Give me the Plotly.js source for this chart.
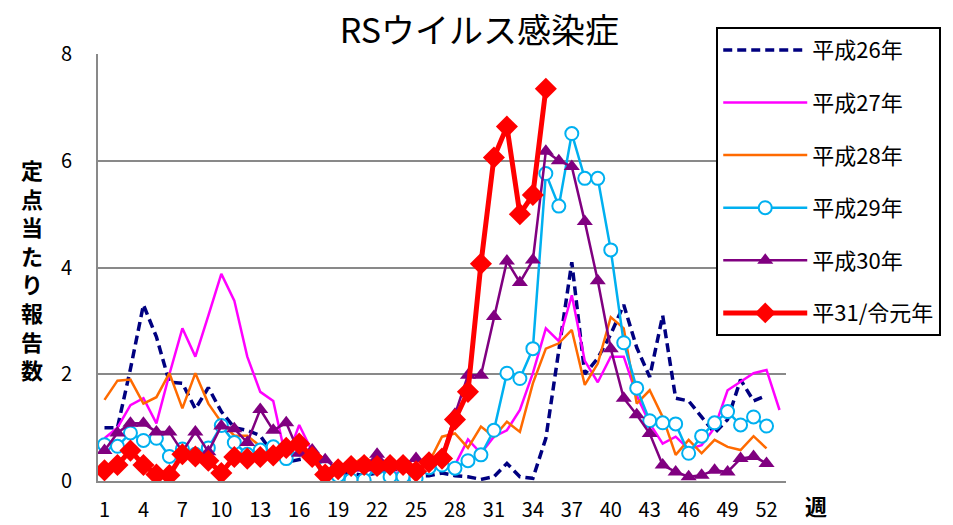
<!DOCTYPE html>
<html><head><meta charset="utf-8">
<script src="https://cdn.plot.ly/plotly-3.0.1.min.js"></script>
<style>html,body{margin:0;padding:0;background:#fff}#chart{width:953px;height:525px}</style>
</head><body><div id="chart"></div>
<script>
const weeks = [1,2,3,4,5,6,7,8,9,10,11,12,13,14,15,16,17,18,19,20,21,22,23,24,25,26,27,28,29,30,31,32,33,34,35,36,37,38,39,40,41,42,43,44,45,46,47,48,49,50,51,52,53];
const tickWeeks = [1,4,7,10,13,16,19,22,25,28,31,34,37,40,43,46,49,52];
const seriesNames = ["平成26年","平成27年","平成28年","平成29年","平成30年","平31/令元年"];

const h26 = [1.0,1.0,2.1,3.3,2.7,1.85,1.83,1.35,1.75,1.3,1.0,0.95,0.85,0.5,0.35,0.4,0.45,0.25,0.15,0.15,0.1,0.15,0.1,0.1,0.1,0.1,0.15,0.1,0.08,0.03,0.08,0.33,0.08,0.05,0.8,2.4,4.1,2.0,2.3,2.75,3.3,2.5,1.95,3.1,1.55,1.5,1.2,0.9,1.15,1.9,1.5,1.6];
const h27 = [0.8,1.0,1.42,1.55,1.08,2.0,2.86,2.33,3.1,3.88,3.38,2.33,1.67,1.5,0.4,1.05,0.55,0.3,0.25,0.2,0.2,0.2,0.15,0.15,0.1,0.2,0.3,0.3,0.78,0.52,0.83,0.95,1.33,2.02,2.86,2.62,3.48,2.25,1.85,2.33,2.33,1.6,1.08,0.7,0.83,0.6,0.67,1.0,1.7,1.86,2.02,2.08,1.33];
const h28 = [1.52,1.88,1.9,1.45,1.57,2.02,1.36,2.02,1.45,1.1,0.85,0.85,0.65,0.5,0.45,0.55,0.4,0.3,0.25,0.3,0.45,0.3,0.3,0.25,0.25,0.35,0.83,0.89,0.62,1.02,0.83,1.11,0.92,1.83,2.48,2.58,2.83,1.8,2.2,3.07,2.86,1.45,1.7,1.2,0.49,0.77,0.52,0.77,0.64,0.58,0.84,0.61];
const h29 = [0.68,0.65,0.9,0.76,0.8,0.46,0.6,0.5,0.62,1.04,0.72,0.5,0.58,0.64,0.42,0.6,0.45,0.25,0.1,0.02,0.02,0.25,0.08,0.08,0.05,0.25,0.3,0.24,0.38,0.49,0.95,2.02,1.92,2.48,5.76,5.15,6.51,5.67,5.67,4.33,2.59,1.74,1.13,1.09,1.07,0.52,0.84,1.09,1.3,1.05,1.2,1.03];
const h30 = [0.57,0.9,1.08,1.08,0.92,0.92,0.55,0.92,0.55,1.03,0.98,0.72,1.34,0.95,1.09,0.52,0.58,0.4,0.22,0.25,0.25,0.5,0.25,0.3,0.42,0.35,0.45,1.25,1.98,1.98,3.08,4.12,3.72,4.14,6.18,6.0,5.89,4.86,3.75,2.48,1.55,1.24,0.89,0.3,0.17,0.08,0.11,0.2,0.17,0.42,0.46,0.33];
const h31 = [0.2,0.3,0.57,0.3,0.12,0.11,0.5,0.46,0.38,0.15,0.45,0.42,0.45,0.48,0.62,0.7,0.45,0.12,0.22,0.28,0.3,0.28,0.3,0.3,0.18,0.35,0.42,1.15,1.67,4.07,6.06,6.64,5.0,5.36,7.35];

const FONT = '"Noto Sans CJK JP", "Noto Sans", sans-serif';
function tr(y, i, line, marker) {
  const t = {
    x: weeks.slice(0, y.length), y: y, name: seriesNames[i], legendgroup: 'g' + i,
    type: 'scatter', mode: marker ? 'lines+markers' : 'lines',
    line: line, hoverinfo: 'skip'
  };
  if (marker) t.marker = marker;
  return t;
}
const data = [
  tr(h26, 0, {color: '#000080', width: 3.5, dash: '9px,5px'}),
  tr(h27, 1, {color: '#FF00FF', width: 2.5}),
  tr(h28, 2, {color: '#FF6A00', width: 2.5}),
  tr(h29, 3, {color: '#00B0F0', width: 2.5}, {symbol: 'circle', size: 13, color: '#FFFFFF', line: {color: '#00B0F0', width: 2}}),
  tr(h30, 4, {color: '#800080', width: 2.5}, {symbol: 'triangle-up', size: 14, color: '#800080', line: {width: 0}}),
  tr(h31, 5, {color: '#FF0000', width: 5}, {symbol: 'diamond', size: 17, color: '#FF0000', line: {width: 0}})
];

const layout = {
  width: 953, height: 525,
  margin: {l: 98, r: 165, t: 54, b: 44},
  paper_bgcolor: '#FFFFFF', plot_bgcolor: '#FFFFFF',
  font: {family: FONT, size: 20, color: '#000000'},
  title: {text: 'RSウイルス感染症', font: {family: FONT, size: 34, color: '#000000'},
          x: 0.503, xanchor: 'center', xref: 'container', y: 0.94, yanchor: 'middle', yref: 'container'},
  xaxis: {
    range: [0.5, 53.5], tickmode: 'array', tickvals: tickWeeks, ticktext: tickWeeks.map(String),
    showgrid: false, zeroline: false, showline: true, linecolor: '#898989', linewidth: 2,
    ticks: '', ticklabelstandoff: 10, tickfont: {size: 20}, fixedrange: true
  },
  yaxis: {
    range: [0, 8], tickvals: [0, 2, 4, 6, 8], ticktext: ['0','2','4','6','8'],
    showgrid: true, gridcolor: '#898989', gridwidth: 2, zeroline: false,
    showline: true, linecolor: '#898989', linewidth: 2, ticks: '', ticklabelstandoff: 20,
    tickfont: {size: 20}, fixedrange: true
  },
  showlegend: true,
  legend: {
    x: 0.8986, xanchor: 'left', y: 1.063, yanchor: 'top',
    bgcolor: '#FFFFFF', bordercolor: '#000000', borderwidth: 2,
    font: {family: FONT, size: 22, color: '#000000'},
    itemwidth: 84, tracegroupgap: 21, traceorder: 'grouped', maxheight: 420
  },
  annotations: [
    {text: '定<br>点<br>当<br>た<br>り<br>報<br>告<br>数', xref: 'paper', yref: 'paper', x: -0.0957, y: 0.496,
     xanchor: 'center', yanchor: 'middle', showarrow: false, font: {family: FONT, size: 22, color: '#000000', weight: 'bold'}},
    {text: '週', xref: 'paper', yref: 'paper', x: (818 - 98) / 690, y: (481 - 505) / 427,
     xanchor: 'center', yanchor: 'middle', showarrow: false, font: {family: FONT, size: 22, color: '#000000', weight: 'bold'}}
  ]
};
Plotly.newPlot('chart', data, layout, {displayModeBar: false, staticPlot: true});
</script></body></html>
